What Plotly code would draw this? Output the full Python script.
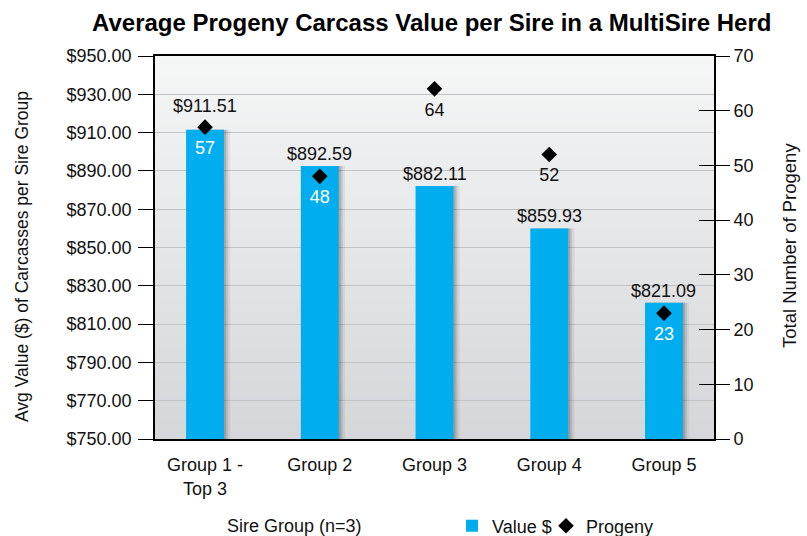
import plotly.graph_objects as go

# ---- data ----
categories = ["Group 1 -<br>Top 3", "Group 2", "Group 3", "Group 4", "Group 5"]
values = [911.51, 892.59, 882.11, 859.93, 821.09]
progeny = [57, 48, 64, 52, 23]
progeny_label_colors = ["white", "white", "#111111", "#111111", "white"]
left_ticks = [750, 770, 790, 810, 830, 850, 870, 890, 910, 930, 950]
left_tick_labels = [f"${v:.2f}" for v in left_ticks]
right_ticks = [0, 10, 20, 30, 40, 50, 60, 70]

W, H = 807, 536
ML, MR, MT, MB = 155, 93, 56, 97
PW = W - ML - MR
PH = H - MT - MB

FONT = "Liberation Sans, Arial, Helvetica, sans-serif"
BAR = "#00ADEF"
FS = 18

fig = go.Figure()

# soft bar shadows
bw = 0.33
for off, op in [(0.055, 0.06), (0.035, 0.10), (0.018, 0.14)]:
    fig.add_trace(go.Bar(
        x=categories, y=values, base=0, width=bw, offset=-bw / 2 + off,
        marker=dict(color=f"rgba(0,0,0,{op})", line=dict(width=0)),
        showlegend=False, hoverinfo="skip"))

fig.add_trace(go.Bar(
    x=categories, y=values, width=bw, offset=-bw / 2, name="Value $",
    marker=dict(color=BAR, line=dict(width=0)), legend="legend"))

# progeny diamonds
fig.add_trace(go.Scatter(
    x=categories, y=progeny, yaxis="y2", name="Progeny", mode="markers",
    marker=dict(symbol="diamond", size=12, color="black"), legend="legend2",
    cliponaxis=False))

# progeny labels (invisible larger marker pushes the text a bit lower)
fig.add_trace(go.Scatter(
    x=categories, y=progeny, yaxis="y2", mode="markers+text", showlegend=False,
    marker=dict(size=20, opacity=0), hoverinfo="skip",
    text=[str(p) for p in progeny], textposition="bottom center",
    textfont=dict(family=FONT, size=FS, color=progeny_label_colors),
    cliponaxis=False))

# invisible trace to anchor cross-tick axis
fig.add_trace(go.Scatter(x=categories, y=progeny, yaxis="y3", mode="markers",
                         marker=dict(opacity=0), showlegend=False, hoverinfo="skip"))

# value labels above bars (first one lifted clear of the diamond)
for i, (c, v) in enumerate(zip(categories, values)):
    fig.add_annotation(x=c, y=v, xref="x", yref="y", text=f"${v:.2f}",
                       showarrow=False, yanchor="bottom", yshift=12 if i == 0 else 0,
                       font=dict(family=FONT, size=FS, color="#111111"))

# gradient background
n = 60
top = (245, 246, 246)
bot = (213, 214, 217)
for i in range(n):
    t = i / (n - 1)
    c = tuple(round(top[k] + (bot[k] - top[k]) * t) for k in range(3))
    fig.add_shape(type="rect", xref="x domain", yref="y domain",
                  x0=0, x1=1, y0=1 - (i + 1) / n, y1=1 - i / n + 0.002,
                  fillcolor=f"rgb{c}", line=dict(width=0), layer="below")

leg_y = (MT + PH - 526) / PH
fig.update_layout(
    width=W, height=H,
    margin=dict(l=ML, r=MR, t=MT, b=MB, autoexpand=False),
    paper_bgcolor="white", plot_bgcolor="rgba(0,0,0,0)",
    barmode="overlay",
    font=dict(family=FONT, size=FS, color="#111111"),
    xaxis=dict(range=[-0.436, 4.436], showline=True, mirror=True, linecolor="black",
               linewidth=1.5, ticks="", tickfont=dict(size=FS), ticklabelstandoff=9,
               showgrid=False),
    yaxis=dict(range=[750, 950], tickvals=left_ticks, ticktext=left_tick_labels,
               showline=True, mirror=True, linecolor="black", linewidth=1.5,
               ticks="outside", ticklen=15, tickcolor="black", tickwidth=1.2,
               gridcolor="#c2c3c5", gridwidth=1, tickfont=dict(size=FS),
               ticklabelstandoff=3, zeroline=False),
    yaxis2=dict(range=[0, 70], tickvals=right_ticks, overlaying="y", side="right",
                ticks="outside", ticklen=15, tickcolor="black", tickwidth=1.2,
                showgrid=False, zeroline=False, tickfont=dict(size=FS)),
    yaxis3=dict(range=[0, 70], tickvals=right_ticks, overlaying="y", side="right",
                ticks="inside", ticklen=15, tickcolor="black", tickwidth=1.2,
                showgrid=False, zeroline=False, showticklabels=False),
    legend=dict(orientation="h", x=(452 - ML) / PW, xanchor="left",
                y=leg_y, yanchor="middle",
                font=dict(size=FS), bgcolor="rgba(0,0,0,0)", itemwidth=30),
    legend2=dict(orientation="h", x=(546 - ML) / PW, xanchor="left",
                 y=leg_y, yanchor="middle",
                 font=dict(size=FS), bgcolor="rgba(0,0,0,0)", itemwidth=30),
    showlegend=True,
)

fig.add_annotation(text="<b>Average Progeny Carcass Value per Sire in a MultiSire Herd</b>",
                   xref="paper", yref="paper", x=(431 - ML) / PW, y=(MT + PH - 22) / PH,
                   xanchor="center", yanchor="middle", showarrow=False,
                   font=dict(size=24, color="black"))
fig.add_annotation(text="Avg Value ($) of Carcasses per Sire Group", textangle=-90,
                   xref="paper", yref="paper", x=(22 - ML) / PW, y=(MT + PH - 257) / PH,
                   xanchor="center", yanchor="middle", showarrow=False,
                   font=dict(size=17.5))
fig.add_annotation(text="Total Number of Progeny", textangle=-90,
                   xref="paper", yref="paper", x=(789 - ML) / PW, y=(MT + PH - 246) / PH,
                   xanchor="center", yanchor="middle", showarrow=False,
                   font=dict(size=18.5))
fig.add_annotation(text="Sire Group (n=3)",
                   xref="paper", yref="paper", x=(294 - ML) / PW, y=(MT + PH - 526) / PH,
                   xanchor="center", yanchor="middle", showarrow=False,
                   font=dict(size=FS))

fig.write_html("out.html", config={"displayModeBar": False},
               post_script="document.body.style.margin='0';")
